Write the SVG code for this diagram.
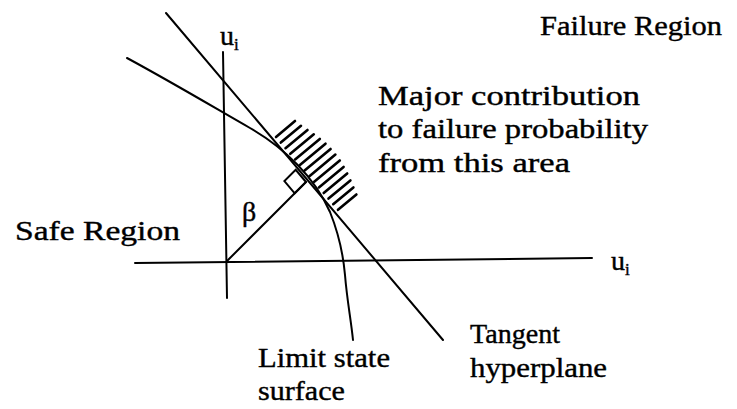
<svg xmlns="http://www.w3.org/2000/svg" width="737" height="409" viewBox="0 0 737 409">
<style>
.ln{fill:none;stroke:#000;stroke-width:2;stroke-linecap:round}
.h{fill:none;stroke:#000;stroke-width:2.6;stroke-linecap:round}
text{font-family:'Liberation Serif','DejaVu Serif',serif;font-size:28px;fill:#000;stroke:#000;stroke-width:0.4}
.s{font-size:17px}
</style>
<rect width="737" height="409" fill="#fff"/>
<g id="axes">
<line class="ln" x1="223" y1="52" x2="227" y2="298"/>
<line class="ln" x1="135" y1="263" x2="592" y2="258"/>
</g>
<g id="connectors">
<line id="tangent" class="ln" x1="166" y1="13" x2="443" y2="340"/>
<path id="limit-state" class="ln" d="M127,58 C175,84 215,108 250,128 C285,148 315,178 330,212 C338,232 343,252 345,275 C347,300 351,320 353,340"/>
<line id="beta-line" class="ln" x1="227" y1="261" x2="306" y2="182"/>
<polygon id="right-angle" class="ln" points="306,182 295.7,169.8 284.4,181.1 294.7,193.3"/>
</g>
<g id="hatching">
<line class="h" x1="276" y1="137" x2="295" y2="121"/>
<line class="h" x1="280.8" y1="142.6" x2="301" y2="125.8"/>
<line class="h" x1="285.5" y1="148.2" x2="307.5" y2="130"/>
<line class="h" x1="290.3" y1="153.8" x2="313.8" y2="134.3"/>
<line class="h" x1="295.1" y1="159.4" x2="319.8" y2="138.9"/>
<line class="h" x1="299.9" y1="165" x2="325.5" y2="143.7"/>
<line class="h" x1="304.6" y1="170.6" x2="330.6" y2="149"/>
<line class="h" x1="309.4" y1="176.2" x2="335.4" y2="154.6"/>
<line class="h" x1="314.2" y1="181.8" x2="339.8" y2="160.5"/>
<line class="h" x1="318.9" y1="187.4" x2="343.6" y2="166.9"/>
<line class="h" x1="323.7" y1="193" x2="347.2" y2="173.5"/>
<line class="h" x1="328.5" y1="198.6" x2="350.4" y2="180.4"/>
<line class="h" x1="333.2" y1="204.2" x2="353.4" y2="187.4"/>
<line class="h" x1="338" y1="209.8" x2="356.4" y2="194.5"/>
</g>
<g id="label-ui-top"><text x="220" y="45">u<tspan class="s" dy="5">i</tspan></text></g>
<g id="label-ui-right"><text x="611" y="270">u<tspan class="s" dy="5">i</tspan></text></g>
<g id="label-beta"><text x="242" y="221">β</text></g>
<g id="failure-region"><text x="540" y="35" textLength="182" lengthAdjust="spacingAndGlyphs">Failure Region</text></g>
<g id="safe-region"><text x="15" y="240" textLength="165" lengthAdjust="spacingAndGlyphs">Safe Region</text></g>
<g id="major-contribution">
<text x="378" y="105" textLength="262" lengthAdjust="spacingAndGlyphs">Major contribution</text>
<text x="378" y="138" textLength="270" lengthAdjust="spacingAndGlyphs">to failure probability</text>
<text x="378" y="172" textLength="192" lengthAdjust="spacingAndGlyphs">from this area</text>
</g>
<g id="limit-state-label">
<text x="258" y="367" textLength="132" lengthAdjust="spacingAndGlyphs">Limit state</text>
<text x="258" y="400" textLength="87" lengthAdjust="spacingAndGlyphs">surface</text>
</g>
<g id="tangent-label">
<text x="470" y="343" textLength="90" lengthAdjust="spacingAndGlyphs">Tangent</text>
<text x="470" y="377" textLength="137" lengthAdjust="spacingAndGlyphs">hyperplane</text>
</g>
</svg>
